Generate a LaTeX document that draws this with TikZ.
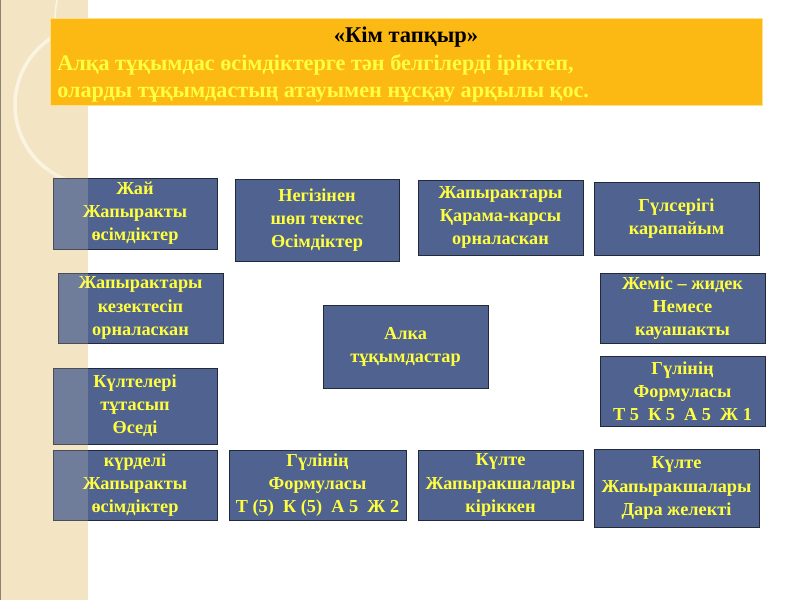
\documentclass[tikz,border=0pt]{standalone}
\usepackage{fontspec}
\setmainfont{Liberation Serif}
\definecolor{cellblue}{HTML}{4F6290}
\definecolor{cellline}{HTML}{22293A}
\definecolor{bannerfill}{HTML}{FDB913}
\definecolor{bannerline}{HTML}{FFE08A}
\definecolor{textyellow}{HTML}{FFFF40}
\definecolor{stripbeige}{HTML}{F3E5C3}
\definecolor{stripedge}{HTML}{8C8275}
\definecolor{stripring}{HTML}{FBF4E2}

\begin{document}
\begin{tikzpicture}[x=0.025cm,y=-0.025cm,
    cell/.style={draw=cellline,line width=0.6pt,fill=cellblue,text=textyellow,
      inner sep=0pt,align=center,minimum width=4.125cm,minimum height=1.75cm,
      font=\fontsize{13}{16.4}\selectfont\bfseries},
    headline/.style={text=textyellow,inner sep=0pt,anchor=base west,
      font=\fontsize{15.8}{19}\selectfont\bfseries}]
    \useasboundingbox (0,0) rectangle (800,600);
    \fill[white] (0,0) rectangle (800,600);
    % left strip
    \fill[stripbeige] (0,0) rectangle (88,600);
    \begin{scope}
        \clip (0,0) rectangle (88,600);
        \draw[stripring,line width=2.5pt] (95,105) circle (80);
        \draw[stripring,line width=1.2pt] (150,20) circle (95);
    \end{scope}
    \draw[stripedge,line width=1.5pt] (0,0) -- (0,600);
    % banner
    \draw[bannerline,fill=bannerfill,line width=0.6pt] (50,18) rectangle (762,105);
    \node[inner sep=0pt,anchor=base,font=\fontsize{16}{18}\selectfont\bfseries] (title) at (406,42) {«Кім тапқыр»};
    \node[headline] (task1) at (57,70) {Алқа тұқымдас өсімдіктерге тән белгілерді іріктеп,};
    \node[headline] (task2) at (57,97) {оларды тұқымдастың атауымен нұсқау арқылы қос.};
    % boxes
    \node[cell,minimum width=4.1cm,minimum height=1.775cm] (zhai) at (135,213.5) {Жай\\Жапыракты\\өсімдіктер};
    \node[cell,minimum width=4.1cm,minimum height=2.05cm] (shop) at (317,220) {Негізінен\\шөп тектес\\Өсімдіктер};
    \node[cell,minimum height=1.875cm] (karama) at (500.5,217.5) {Жапырактары\\Қарама-карсы\\орналаскан};
    \node[cell,minimum height=1.825cm] (gulseri) at (676.5,218.5) {Гүлсерігі\\карапайым};
    \node[cell] (kezek) at (140.5,308) {Жапырактары\\кезектесіп\\орналаскан};
    \node[cell,minimum height=2.075cm] (alka) at (405.5,346.5) {Алка\\тұқымдастар};
    \node[cell,minimum width=4.1cm,minimum height=1.9cm] (kulte) at (135,406) {Күлтелері\\тұтасып\\Өседі};
    \node[cell] (zhemis) at (682.5,308) {Жеміс – жидек\\Немесе\\кауашакты};
    \node[cell] (formulaA) at (682.5,391) {Гүлінің\\Формуласы\\Т 5\ \ К 5\ \ А 5\ \ Ж 1};
    \node[cell,minimum width=4.1cm] (kurdeli) at (135,485) {күрделі\\Жапыракты\\өсімдіктер};
    \node[cell,minimum width=4.425cm] (formulaB) at (317.5,485) {Гүлінің\\Формуласы\\Т (5)\ \ К (5)\ \ А 5\ \ Ж 2};
    \node[cell] (kirik) at (500.5,485) {Күлте\\Жапыракшалары\\кіріккен};
    \node[cell,minimum height=1.95cm] (dara) at (676.5,488) {Күлте\\Жапыракшалары\\Дара желекті};
    % strip tint over the boxes
    \fill[stripbeige,opacity=0.2] (2,170) rectangle (88,600);
\end{tikzpicture}
\end{document}
